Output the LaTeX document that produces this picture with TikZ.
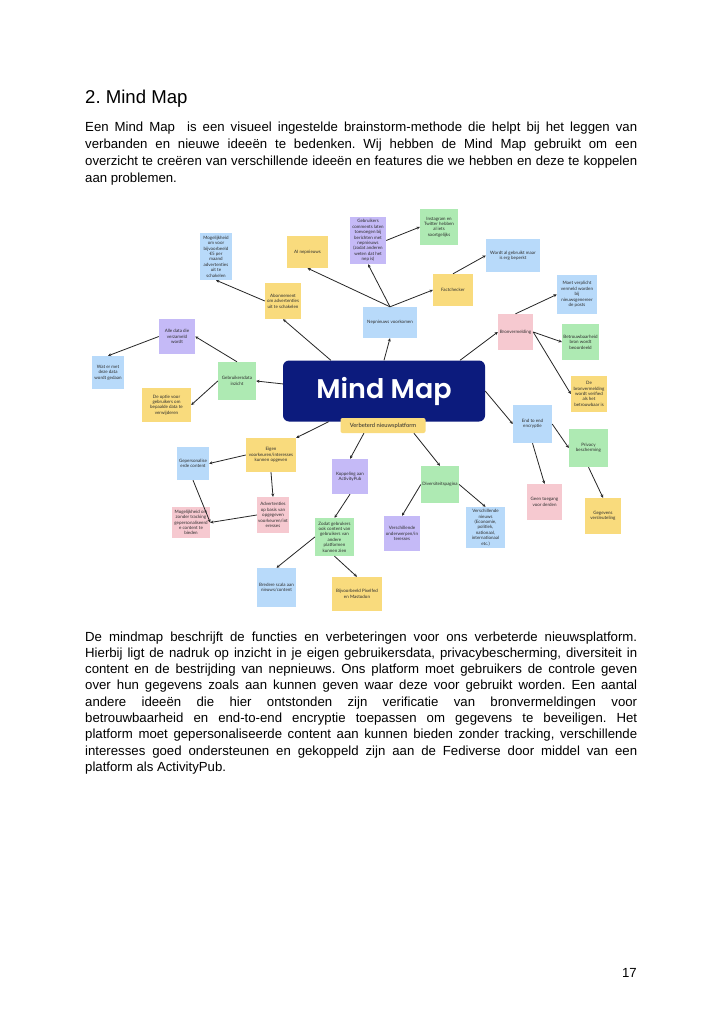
\documentclass[tikz,border=0pt]{standalone}
\usepackage{fontspec}
\setmainfont{Liberation Sans}
\newfontfamily\mapfontfam{Lato}
\newfontfamily\titlefam{Poppins}[UprightFont=* SemiBold]
\usetikzlibrary{arrows.meta}
\frenchspacing
\definecolor{cblue}{RGB}{184,218,250}
\definecolor{cyellow}{RGB}{249,219,125}
\definecolor{cpurple}{RGB}{197,186,247}
\definecolor{cgreen}{RGB}{174,234,179}
\definecolor{cpink}{RGB}{246,201,208}
\definecolor{cnavy}{RGB}{12,27,125}
\definecolor{ctext}{RGB}{45,45,45}
\tikzset{
  bx/.style={rectangle, inner sep=0pt, align=center, text=ctext,
    font=\mapfontfam\fontsize{4.5pt}{5.4pt}\selectfont},
  bb/.style={bx, fill=cblue},
  by/.style={bx, fill=cyellow},
  bp/.style={bx, fill=cpurple},
  bg/.style={bx, fill=cgreen},
  bk/.style={bx, fill=cpink},
  arr/.style={draw=black!85, line width=0.8pt, -{Stealth[length=3.2pt,width=3pt]}},
  bodyline/.style={anchor=base west, inner sep=0pt, font=\fontsize{13.2pt}{16.5pt}\selectfont},
}
\newcommand{\jl}[1]{\makebox[552pt][s]{#1}}
\begin{document}
\begin{tikzpicture}[x=1pt,y=-1pt]
\useasboundingbox[fill=white] (0,0) rectangle (724,1024);

% heading and top paragraph
\node[anchor=base west, inner sep=0pt, font=\fontsize{18.6pt}{22pt}\selectfont] (h) at (85,104) {2. Mind Map};
\node[bodyline] (t1) at (85,132) {\jl{Een Mind Map\ \ is een visueel ingestelde brainstorm-methode die helpt bij het leggen van}};
\node[bodyline] (t2) at (85,148.7) {\jl{verbanden en nieuwe ideeën te bedenken. Wij hebben de Mind Map gebruikt om een}};
\node[bodyline] (t3) at (85,165.4) {\jl{overzicht te creëren van verschillende ideeën en features die we hebben en deze te koppelen}};
\node[bodyline] (t4) at (85,182.1) {aan problemen.};

% bottom paragraph
\node[bodyline] (b1) at (85,641) {\jl{De mindmap beschrijft de functies en verbeteringen voor ons verbeterde nieuwsplatform.}};
\node[bodyline] (b2) at (85,657.3) {\jl{Hierbij ligt de nadruk op inzicht in je eigen gebruikersdata, privacybescherming, diversiteit in}};
\node[bodyline] (b3) at (85,673.6) {\jl{content en de bestrijding van nepnieuws. Ons platform moet gebruikers de controle geven}};
\node[bodyline] (b4) at (85,689.9) {\jl{over hun gegevens zoals aan kunnen geven waar deze voor gebruikt worden. Een aantal}};
\node[bodyline] (b5) at (85,706.2) {\jl{andere ideeën die hier ontstonden zijn verificatie van bronvermeldingen voor}};
\node[bodyline] (b6) at (85,722.5) {\jl{betrouwbaarheid en end-to-end encryptie toepassen om gegevens te beveiligen. Het}};
\node[bodyline] (b7) at (85,738.8) {\jl{platform moet gepersonaliseerde content aan kunnen bieden zonder tracking, verschillende}};
\node[bodyline] (b8) at (85,755.1) {\jl{interesses goed ondersteunen en gekoppeld zijn aan de Fediverse door middel van een}};
\node[bodyline] (b9) at (85,771.4) {platform als ActivityPub.};

\node[anchor=base east, inner sep=0pt, font=\fontsize{13.2pt}{16pt}\selectfont] (pg) at (637,977) {17};

% central node
\node[rectangle, rounded corners=6pt, fill=cnavy, minimum width=202pt, minimum height=61pt, inner sep=0pt,
  text=white, font=\titlefam\fontsize{27pt}{30pt}\selectfont] (mm) at (384,391) {Mind Map};
\node[by, rounded corners=2pt, minimum width=85pt, minimum height=15pt,
  font=\mapfontfam\fontsize{5.8pt}{7pt}\selectfont] (verb) at (383,425.5) {Verbeterd nieuwsplatform};

% top branch
\node[bb, minimum width=54pt, minimum height=31pt] (nep) at (390,322.5) {Nepnieuws voorkomen};
\node[by, minimum width=41pt, minimum height=32pt] (ai) at (307.5,252) {AI nepnieuws};
\node[bp, minimum width=36pt, minimum height=47pt] (gc) at (368,240.5) {Gebruikers\\comments laten\\toevoegen bij\\berichten met\\nepnieuws\\(zodat anderen\\weten dat het\\nep is)};
\node[bg, minimum width=38pt, minimum height=36pt] (ins) at (439,227) {Instagram en\\Twitter hebben\\al iets\\soortgelijks};
\node[by, minimum width=40pt, minimum height=32pt] (fc) at (453,290) {Factchecker};
\node[bb, minimum width=54pt, minimum height=33pt] (wab) at (513,255.5) {Wordt al gebruikt maar\\is erg beperkt};
\node[by, minimum width=36pt, minimum height=36pt] (abo) at (283,301) {Abonnement\\om advertenties\\uit te schakelen};
\node[bb, minimum width=32pt, minimum height=47pt] (mo5) at (216,256.5) {Mogelijkheid\\om voor\\bijvoorbeeld\\€5 per\\maand\\advertenties\\uit te\\schakelen};

% right branch
\node[bk, minimum width=35pt, minimum height=36pt] (bron) at (515.5,332) {Bronvermelding};
\node[bb, minimum width=40pt, minimum height=39pt] (mvv) at (577,294.5) {Moet verplicht\\vermeld worden\\bij\\nieuwsgenereer\\de posts};
\node[bg, minimum width=37pt, minimum height=36pt] (bet) at (580.5,342) {Betrouwbaarheid\\bron wordt\\beoordeeld};
\node[by, minimum width=36pt, minimum height=36pt] (dbv) at (589,394) {De\\bronvermelding\\wordt verified\\als het\\betrouwbaar is};
\node[bb, minimum width=39pt, minimum height=38pt] (e2e) at (532.5,424) {End to end\\encryptie};
\node[bg, minimum width=39pt, minimum height=38pt] (priv) at (588.5,448) {Privacy\\bescherming};
\node[bk, minimum width=35pt, minimum height=36pt] (geen) at (544.5,502) {Geen toegang\\voor derden};
\node[by, minimum width=36pt, minimum height=36pt] (gv) at (603,516) {Gegevens\\versleuteling};

% bottom branch
\node[bp, minimum width=36pt, minimum height=35pt] (kop) at (350,476.5) {Koppeling aan\\ActivityPub};
\node[bg, minimum width=38pt, minimum height=37pt] (div) at (440,484.5) {Diversiteitspagina};
\node[bp, minimum width=36pt, minimum height=35pt] (vo) at (402,533.5) {Verschillende\\onderwerpen/in\\teresses};
\node[bb, minimum width=39pt, minimum height=41pt] (vn) at (485.5,527.5) {Verschillende\\nieuws\\(Economie,\\politiek,\\nationaal,\\internationaal\\etc.)};
\node[bg, minimum width=39pt, minimum height=38pt] (zod) at (334.5,537) {Zodat gebrukers\\ook content van\\gebruikers van\\andere\\platformen\\kunnen zien};
\node[bb, minimum width=39pt, minimum height=39pt] (bre) at (276.5,587.5) {Bredere scala aan\\nieuws/content};
\node[by, minimum width=50pt, minimum height=34pt] (bijv) at (357,594) {Bijvoorbeeld Pixelfed\\en Mastodon};

% left-bottom branch
\node[by, minimum width=50pt, minimum height=34pt] (eig) at (271,455) {Eigen\\voorkeuren/interesses\\kunnen opgeven};
\node[bb, minimum width=32pt, minimum height=33pt] (gep) at (193,463.5) {Gepersonalise\\erde content};
\node[bk, minimum width=32pt, minimum height=36pt] (adv) at (273,515) {Advertenties\\op basis van\\opgegeven\\voorkeuren/int\\eresses};
\node[bk, minimum width=38pt, minimum height=31pt] (mzt) at (191,522.5) {Mogelijkheid om\\zonder tracking\\gepersonaliseerd\\e content te\\bieden};

% left branch
\node[bg, minimum width=38pt, minimum height=38pt] (gdi) at (237,381) {Gebruikersdata\\inzicht};
\node[bp, minimum width=36pt, minimum height=35pt] (alle) at (177,336.5) {Alle data die\\verzameld\\wordt};
\node[bb, minimum width=32pt, minimum height=33pt] (wat) at (108,372.5) {Wat er met\\deze data\\wordt gedaan};
\node[by, minimum width=49pt, minimum height=34pt] (opt) at (166.5,405) {De optie voor\\gebruikers om\\bepaalde data te\\verwijderen};

% connectors
\draw[arr] (mm.north) -- (nep.south);
\draw[arr] (mm.150) -- (abo.south);
\draw[arr] (mm.22) -- (bron.west);
\draw[arr] (mm.176) -- (gdi.east);
\draw[arr] (mm.east) -- (e2e.west);
\draw[arr] (mm.209) -- (eig.north east);
\draw[arr] (verb.202) -- (kop.north);
\draw[arr] (verb.346) -- (div.north);
\draw[arr] (nep.north) -- (ai.south);
\draw[arr] (nep.north) -- (gc.south);
\draw[arr] (nep.north) -- (fc.west);
\draw[arr] (gc.east) -- (ins.west);
\draw[arr] (fc.north) -- (wab.west);
\draw[arr] (abo.west) -- (mo5.south);
\draw[arr] (bron.north) -- (mvv.west);
\draw[arr] (bron.east) -- (bet.west);
\draw[arr] (bron.east) -- (dbv.west);
\draw[arr] (e2e.east) -- (priv.west);
\draw[arr] (e2e.south) -- (geen.north);
\draw[arr] (priv.south) -- (gv.north);
\draw[arr] (gdi.north) -- (alle.east);
\draw[arr] (alle.west) -- (wat.north);
\draw[arr] (gdi.west) -- (opt.east);
\draw[arr] (eig.west) -- (gep.east);
\draw[arr] (eig.south) -- (adv.north);
\draw[arr] (gep.south) -- (mzt.east);
\draw[arr] (adv.west) -- (mzt.east);
\draw[arr] (kop.south) -- (zod.north);
\draw[arr] (zod.west) -- (bre.north);
\draw[arr] (zod.south) -- (bijv.north);
\draw[arr] (div.west) -- (vo.north);
\draw[arr] (div.east) -- (vn.north);
\end{tikzpicture}
\end{document}
